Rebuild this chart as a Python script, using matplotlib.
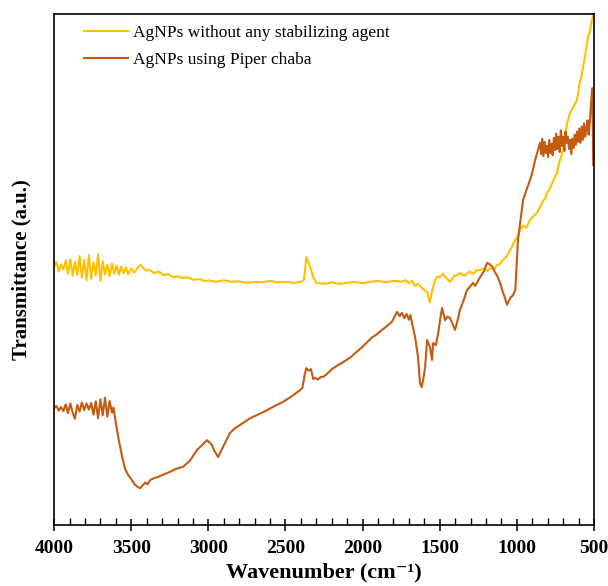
import matplotlib.pyplot as plt
import numpy as np

plt.rcParams['font.family'] = ['Liberation Serif', 'DejaVu Serif']

# AgNPs without any stabilizing agent
wn_plain = [4000, 3985, 3970, 3955, 3940, 3925, 3910, 3895, 3880, 3865, 3850, 3835, 3820,
            3805, 3790, 3775, 3760, 3745, 3730, 3715, 3700, 3685, 3670, 3655, 3640, 3625,
            3610, 3595, 3580, 3565, 3550, 3535, 3520, 3500, 3480, 3460, 3440, 3420, 3400,
            3380, 3350, 3320, 3290, 3260, 3230, 3200, 3164, 3130, 3100, 3054, 3020, 3000,
            2950, 2900, 2850, 2800, 2750, 2700, 2650, 2600, 2550, 2500, 2450, 2400, 2380,
            2365, 2340, 2320, 2300, 2250, 2200, 2150, 2100, 2050, 2000, 1950, 1900, 1850,
            1800, 1750, 1720, 1700, 1680, 1660, 1640, 1620, 1600, 1580, 1565, 1550, 1530,
            1515, 1498, 1480, 1460, 1433, 1410, 1390, 1369, 1340, 1310, 1280, 1260, 1239,
            1210, 1190, 1174, 1150, 1129, 1110, 1090, 1065, 1044, 1025, 1012, 995, 980, 960,
            940, 915, 895, 875, 850, 830, 815, 805, 790, 770, 755, 740, 725, 710, 701, 690,
            675, 656, 640, 625, 610, 595, 580, 571, 555, 539, 525, 515, 506]
t_plain = [50.5, 51.5, 49.6, 51.0, 50.0, 51.8, 49.2, 52.0, 48.8, 51.5, 49.0, 52.6, 48.4,
           51.9, 47.9, 52.8, 48.2, 51.4, 48.9, 53.0, 47.8, 51.6, 49.0, 50.9, 48.7, 51.2,
           49.2, 50.8, 49.0, 50.6, 49.3, 50.4, 49.1, 50.2, 49.4, 50.3, 50.9, 50.2, 49.8,
           49.9, 49.3, 49.6, 48.9, 49.1, 48.5, 48.7, 48.3, 48.5, 48.0, 48.1, 47.7, 47.9,
           47.6, 47.9, 47.6, 47.7, 47.4, 47.6, 47.5, 47.8, 47.5, 47.6, 47.4, 47.6, 48.0,
           52.4, 50.5, 48.5, 47.4, 47.2, 47.5, 47.2, 47.4, 47.6, 47.3, 47.6, 47.8, 47.5,
           47.8, 47.6, 47.9, 47.3, 47.8, 46.8, 47.2, 46.5, 46.0, 45.5, 43.6, 45.8, 48.0,
           48.6, 48.5, 49.2, 48.4, 47.6, 48.6, 48.9, 49.3, 48.8, 49.6, 49.2, 49.9, 49.9,
           50.2, 49.7, 50.3, 50.0, 50.9, 51.1, 51.9, 52.6, 53.8, 54.9, 55.8, 56.4, 57.7, 58.6,
           58.2, 59.7, 60.4, 60.9, 62.2, 63.4, 64.0, 65.0, 65.6, 67.0, 68.0, 68.9, 71.0,
           72.4, 73.4, 75.5, 78.5, 80.6, 81.5, 82.3, 83.2, 86.2, 88.0, 89.6, 92.3, 95.5,
           96.8, 98.6, 99.8]

# AgNPs using Piper chaba
wn_chaba = [4000, 3985, 3970, 3955, 3940, 3925, 3910, 3895, 3880, 3865, 3850, 3835, 3820,
            3805, 3790, 3775, 3760, 3745, 3730, 3715, 3700, 3685, 3670, 3655, 3640, 3625,
            3615, 3600, 3580, 3560, 3540, 3520, 3500, 3480, 3460, 3443, 3425, 3410, 3395,
            3378, 3350, 3320, 3290, 3250, 3210, 3164, 3120, 3073, 3030, 3008, 2980, 2960,
            2937, 2900, 2860, 2830, 2794, 2760, 2730, 2680, 2619, 2570, 2516, 2460, 2406,
            2390, 2375, 2365, 2350, 2335, 2320, 2308, 2290, 2270, 2256, 2230, 2200, 2160,
            2120, 2090, 2075, 2050, 2020, 2004, 1970, 1940, 1910, 1874, 1840, 1810, 1777,
            1760, 1745, 1730, 1715, 1700, 1690, 1680, 1660, 1641, 1628, 1618, 1608, 1595,
            1582, 1563, 1550, 1543, 1525, 1510, 1498, 1485, 1466, 1450, 1433, 1401, 1385,
            1369, 1345, 1323, 1300, 1284, 1270, 1239, 1215, 1193, 1175, 1160, 1142, 1125,
            1109, 1090, 1077, 1064, 1044, 1025, 1010, 999, 993, 975, 960, 940, 915, 900,
            882, 865, 850, 843, 835, 828, 820, 812, 805, 798, 790, 782, 775, 768, 760, 752,
            745, 738, 730, 722, 715, 707, 700, 692, 685, 677, 670, 662, 655, 647, 640, 632,
            625, 617, 610, 602, 595, 587, 580, 572, 565, 557, 550, 542, 535, 528, 520, 512,
            508, 505]
t_chaba = [22.9, 23.3, 22.4, 23.1, 22.3, 23.6, 21.9, 23.8, 22.0, 20.8, 23.5, 22.2, 24.0,
           22.5, 23.8, 22.6, 23.9, 21.6, 24.2, 20.9, 24.6, 21.5, 24.9, 21.2, 24.3, 22.0,
           23.0, 20.0, 16.5, 13.5, 11.0, 9.8, 9.0, 8.0, 7.5, 7.2, 7.8, 8.3, 8.0,
           8.8, 9.2, 9.5, 9.9, 10.4, 11.0, 11.4, 12.6, 14.7, 16.0, 16.6, 15.8, 14.5,
           13.3, 15.6, 18.0, 18.9, 19.6, 20.3, 20.9, 21.6, 22.5, 23.3, 24.1, 25.2, 26.4,
           26.9, 29.5, 30.7, 30.2, 30.5, 28.6, 28.8, 28.5, 29.0, 29.0, 29.6, 30.5, 31.3,
           32.0, 32.6, 32.9, 33.6, 34.4, 34.8, 35.8, 36.7, 37.3, 38.2, 39.0, 39.8, 41.7,
           40.9, 41.5, 40.5, 41.3, 40.2, 41.1, 39.5, 36.8, 32.9, 27.8, 27.0, 28.3, 30.9,
           36.2, 34.8, 32.3, 35.6, 35.2, 37.6, 40.1, 42.5, 40.1, 40.8, 40.5, 38.2, 40.0,
           42.1, 44.0, 46.0, 46.8, 47.4, 46.8, 48.5, 49.6, 51.3, 51.0, 50.6, 49.5, 48.6,
           47.4, 45.5, 44.4, 43.1, 44.4, 45.0, 46.0, 52.4, 55.8, 60.0, 63.6, 65.4, 67.5,
           69.0, 71.4, 73.2, 74.8, 72.6, 75.6, 72.2, 75.0, 72.8, 74.2, 72.0, 75.4, 72.8,
           74.6, 72.4, 75.8, 73.4, 76.6, 73.6, 76.0, 73.0, 77.2, 74.2, 76.0, 73.2, 77.0,
           74.8, 76.0, 73.6, 75.4, 72.6, 75.6, 73.8, 76.4, 74.4, 77.0, 75.0, 77.6, 74.8,
           78.0, 75.4, 78.6, 76.0, 77.6, 79.2, 76.4, 78.6, 82.0, 85.5, 78.0, 70.5]

fig, ax = plt.subplots(figsize=(6.08, 5.86), dpi=100)
fig.subplots_adjust(left=0.089, right=0.977, bottom=0.104, top=0.976)

ax.plot(wn_plain, t_plain, color='#FFC000', lw=1.5, label='AgNPs without any stabilizing agent')
ax.plot(wn_chaba, t_chaba, color='#C55A11', lw=1.5, label='AgNPs using Piper chaba')

ax.set_xlim(4000, 500)
ax.set_ylim(0, 100)
ax.set_xticks(np.arange(4000, 499, -500))
ax.set_xticks(np.arange(4000, 499, -100), minor=True)
ax.tick_params(axis='x', which='major', direction='inout', length=9, width=1.1,
               labelsize=14, pad=6)
ax.tick_params(axis='x', which='minor', direction='in', length=5, width=1.0)
ax.set_yticks([])
for lab in ax.get_xticklabels():
    lab.set_fontweight('bold')
for sp in ax.spines.values():
    sp.set_linewidth(1.2)

ax.set_xlabel('Wavenumber (cm\u207b\u00b9)', fontsize=16, fontweight='bold', labelpad=4)
ax.set_ylabel('Transmittance (a.u.)', fontsize=15, fontweight='bold', labelpad=16)

ax.legend(loc='upper left', bbox_to_anchor=(0.056, 0.978), frameon=False, fontsize=12.5,
          handlelength=2.5, handletextpad=0.3, labelspacing=0.6, borderpad=0,
          borderaxespad=0)

fig.savefig('out.png', dpi=100)
